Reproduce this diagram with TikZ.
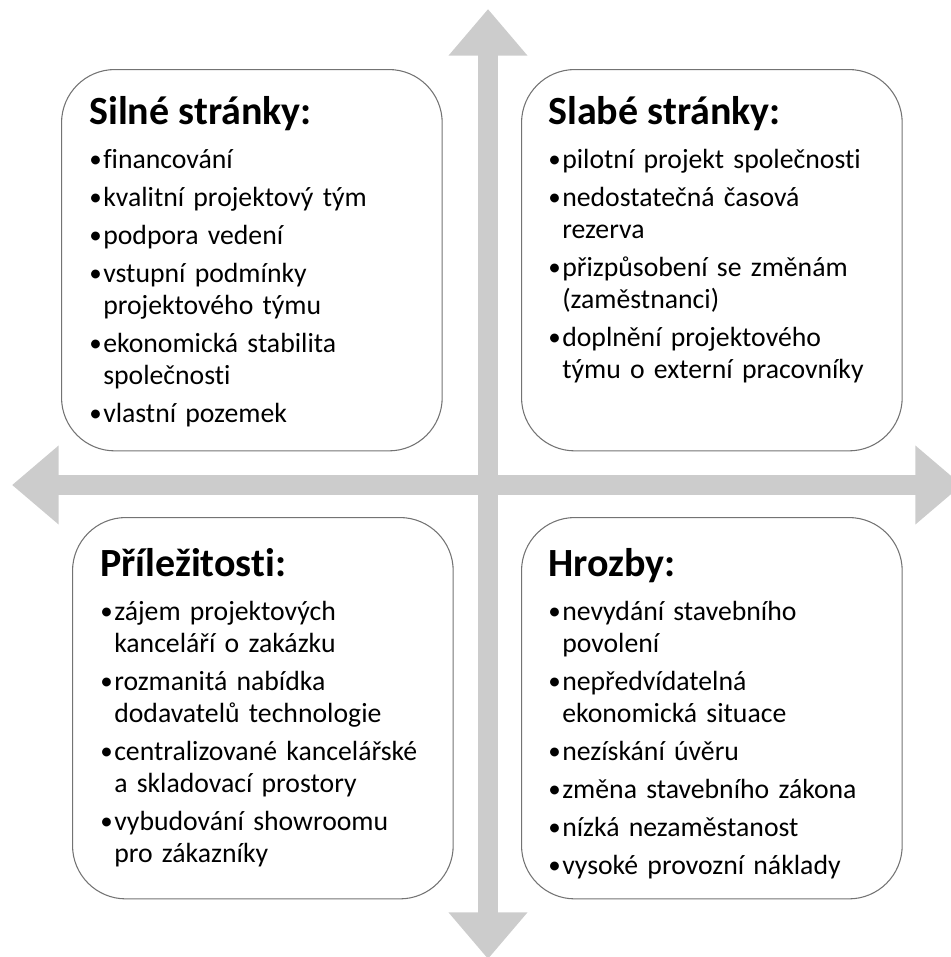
\documentclass[tikz,border=0pt]{standalone}
\usepackage{fontspec}
\setmainfont{Carlito}[Ligatures={NoCommon},WordSpace=0.88]
\usetikzlibrary{arrows.meta,positioning}
\begin{document}
\begin{tikzpicture}[x=0.75pt,y=-0.75pt,
  quad/.style={draw=black!55,line width=0.8pt,rounded corners=40pt,minimum width=285.5pt,minimum height=286pt,anchor=north west,inner sep=0pt},
  txt/.style={anchor=north west,text width=260pt,align=left,inner sep=0pt,font=\fontsize{20.8}{24}\selectfont},
  axis/.style={draw=gray!40,line width=15.5pt,{Triangle[length=35pt,width=57pt]}-{Triangle[length=35pt,width=57pt]}}]
\def\hd#1{{\fontsize{30}{34}\selectfont\bfseries #1}\par\vspace{9pt}}
\def\itm#1{\par\noindent\hangindent=10.5pt\hangafter=1\makebox[10.5pt][l]{\raisebox{.5pt}{\scalebox{.9}{\textbullet}}}#1\par\vspace{4.5pt}}
\useasboundingbox (0,0) rectangle (950,957);
% cross of arrows
\coordinate (up) at (488,9);\coordinate (down) at (488,959);
\coordinate (left) at (12,485);\coordinate (right) at (962,485);
\draw[axis] (up) -- (down);
\draw[axis] (left) -- (right);
% quadrants
\node[quad] (sw) at (61,69) {};
\node[quad] (ww) at (521,69) {};
\node[quad] (op) at (72,517) {};
\node[quad] (th) at (521,517) {};
\node[txt] (swt) at (89,96) {\hd{Silné stránky:}\itm{financování}\itm{kvalitní projektový tým}\itm{podpora vedení}\itm{vstupní podmínky\newline projektového týmu}\itm{ekonomická stabilita\newline společnosti}\itm{vlastní pozemek}};
\node[txt] (wwt) at (548,96) {\hd{Slabé stránky:}\itm{pilotní projekt společnosti}\itm{nedostatečná časová\newline rezerva}\itm{přizpůsobení se změnám\newline (zaměstnanci)}\itm{doplnění projektového\newline týmu o externí pracovníky}};
\node[txt] (opt) at (100,548) {\hd{Příležitosti:}\itm{zájem projektových\newline kanceláří o zakázku}\itm{rozmanitá nabídka\newline dodavatelů technologie}\itm{centralizované kancelářské\newline a skladovací prostory}\itm{vybudování showroomu\newline pro zákazníky}};
\node[txt] (tht) at (548,548) {\hd{Hrozby:}\itm{nevydání stavebního\newline povolení}\itm{nepředvídatelná\newline ekonomická situace}\itm{nezískání úvěru}\itm{změna stavebního zákona}\itm{nízká nezaměstanost}\itm{vysoké provozní náklady}};
\end{tikzpicture}
\end{document}
